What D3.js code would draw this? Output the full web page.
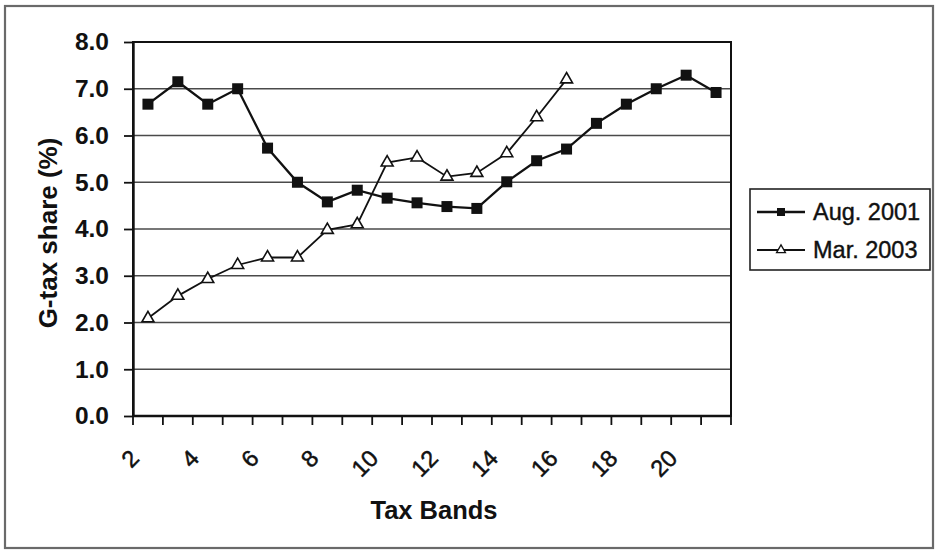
<!DOCTYPE html>
<html>
<head>
<meta charset="utf-8">
<script src="https://cdn.jsdelivr.net/npm/d3@7/dist/d3.min.js"></script>
<style>
  html, body { margin: 0; padding: 0; background: #fff; }
  svg { display: block; font-family: "Liberation Sans", Arial, sans-serif; }
</style>
</head>
<body>
<svg id="chart" width="940" height="551"></svg>
<script>
// Tax bands (categories) and G-tax share (%) per band
const bands = [2, 3, 4, 5, 6, 7, 8, 9, 10, 11, 12, 13, 14, 15, 16, 17, 18, 19, 20, 21];
const aug2001 = [6.67, 7.15, 6.67, 7.0, 5.73, 5.0, 4.58, 4.83, 4.66, 4.56, 4.48, 4.44, 5.01, 5.46, 5.71, 6.26, 6.67, 7.0, 7.29, 6.92];
const mar2003 = [2.09, 2.57, 2.93, 3.23, 3.39, 3.39, 3.98, 4.10, 5.42, 5.53, 5.12, 5.20, 5.62, 6.39, 7.20];
const xTickLabels = [2, 4, 6, 8, 10, 12, 14, 16, 18, 20];
const yTicks = [0, 1, 2, 3, 4, 5, 6, 7, 8];
const seriesNames = ["Aug. 2001", "Mar. 2003"];

const svg = d3.select("#chart");
const plot = { left: 133, right: 731, top: 42, bottom: 416 };

const x = d3.scaleBand().domain(bands).range([plot.left, plot.right]).padding(0);
const cx = d => x(d) + x.bandwidth() / 2;
const y = d3.scaleLinear().domain([0, 8]).range([plot.bottom, plot.top]);

// outer chart frame
svg.append("rect")
  .attr("x", 5).attr("y", 6).attr("width", 928).attr("height", 542)
  .attr("fill", "#fff").attr("stroke", "#6a6a6a").attr("stroke-width", 2.2);

// horizontal gridlines
svg.append("g").selectAll("line")
  .data(yTicks.filter(t => t > 0 && t < 8))
  .join("line")
  .attr("x1", plot.left).attr("x2", plot.right)
  .attr("y1", d => y(d)).attr("y2", d => y(d))
  .attr("stroke", "#4a4a4a").attr("stroke-width", 1.6);

// plot area border
svg.append("rect")
  .attr("x", plot.left).attr("y", plot.top)
  .attr("width", plot.right - plot.left).attr("height", plot.bottom - plot.top)
  .attr("fill", "none").attr("stroke", "#111").attr("stroke-width", 2);

// y axis
const yAxis = svg.append("g")
  .attr("transform", `translate(${plot.left},0)`)
  .call(d3.axisLeft(y).tickValues(yTicks).tickFormat(d3.format(".1f")).tickSize(9).tickSizeOuter(0).tickPadding(15));
yAxis.select(".domain").attr("stroke", "#111").attr("stroke-width", 2.4);
yAxis.selectAll(".tick line").attr("stroke", "#111").attr("stroke-width", 1.8);
yAxis.selectAll(".tick text")
  .attr("font-size", 24.5).attr("font-weight", "bold").attr("fill", "#111")
  .attr("font-family", "Liberation Sans, Arial, sans-serif");

// x axis: ticks at band boundaries, labels on every other band
const boundaries = bands.map(b => x(b)).concat([x.range()[1]]);
const xg = svg.append("g");
xg.append("line")
  .attr("x1", plot.left).attr("x2", plot.right)
  .attr("y1", plot.bottom).attr("y2", plot.bottom)
  .attr("stroke", "#111").attr("stroke-width", 2.4);
xg.selectAll("line.tick")
  .data(boundaries)
  .join("line").attr("class", "tick")
  .attr("x1", d => d).attr("x2", d => d)
  .attr("y1", plot.bottom).attr("y2", plot.bottom + 9)
  .attr("stroke", "#111").attr("stroke-width", 1.8);
xg.selectAll("text")
  .data(xTickLabels)
  .join("text")
  .attr("transform", d => `translate(${cx(d) - 13},${plot.bottom + 38}) rotate(-45)`)
  .attr("text-anchor", "end")
  .attr("dominant-baseline", "central")
  .attr("font-size", 23.5).attr("fill", "#111")
  .attr("stroke", "#111").attr("stroke-width", 0.5)
  .text(d => d);

// axis titles
svg.append("text")
  .attr("transform", "translate(57,233) rotate(-90)")
  .attr("text-anchor", "middle")
  .attr("font-size", 26).attr("font-weight", "bold").attr("fill", "#111")
  .text("G-tax share (%)");
svg.append("text")
  .attr("x", 434).attr("y", 519)
  .attr("text-anchor", "middle")
  .attr("font-size", 25.5).attr("font-weight", "bold").attr("fill", "#111")
  .text("Tax Bands");

// series lines
const line = d3.line().x(d => cx(d.band)).y(d => y(d.value));
const augData = aug2001.map((v, i) => ({ band: bands[i], value: v }));
const marData = mar2003.map((v, i) => ({ band: bands[i], value: v }));

svg.append("path").datum(marData)
  .attr("d", line).attr("fill", "none").attr("stroke", "#111").attr("stroke-width", 1.8);
svg.append("path").datum(augData)
  .attr("d", line).attr("fill", "none").attr("stroke", "#111").attr("stroke-width", 2.3);

// markers
const sq = 11;
svg.append("g").selectAll("rect")
  .data(augData).join("rect")
  .attr("x", d => cx(d.band) - sq / 2).attr("y", d => y(d.value) - sq / 2)
  .attr("width", sq).attr("height", sq)
  .attr("fill", "#111");

const tri = d3.symbol().type(d3.symbolTriangle).size(62);
svg.append("g").selectAll("path")
  .data(marData).join("path")
  .attr("transform", d => `translate(${cx(d.band)},${y(d.value)})`)
  .attr("d", tri)
  .attr("fill", "#fff").attr("stroke", "#111").attr("stroke-width", 1.6);

// legend
const lg = svg.append("g");
lg.append("rect")
  .attr("x", 750).attr("y", 189).attr("width", 180).attr("height", 81)
  .attr("fill", "#fff").attr("stroke", "#222").attr("stroke-width", 1.6);
const legendRows = [{ name: seriesNames[0], yy: 212, kind: "square" }, { name: seriesNames[1], yy: 250, kind: "triangle" }];
legendRows.forEach(r => {
  lg.append("line").attr("x1", 757).attr("x2", 805).attr("y1", r.yy).attr("y2", r.yy)
    .attr("stroke", "#111").attr("stroke-width", r.kind === "square" ? 2.3 : 1.8);
  if (r.kind === "square") {
    lg.append("rect").attr("x", 777).attr("y", r.yy - 4).attr("width", 8).attr("height", 8).attr("fill", "#111");
  } else {
    lg.append("path").attr("transform", `translate(781,${r.yy})`)
      .attr("d", d3.symbol().type(d3.symbolTriangle).size(34))
      .attr("fill", "#fff").attr("stroke", "#111").attr("stroke-width", 1.3);
  }
  lg.append("text").attr("x", 813).attr("y", r.yy).attr("dominant-baseline", "central")
    .attr("font-size", 23.5).attr("fill", "#111")
    .attr("stroke", "#111").attr("stroke-width", 0.4)
    .text(r.name);
});
</script>
</body>
</html>
